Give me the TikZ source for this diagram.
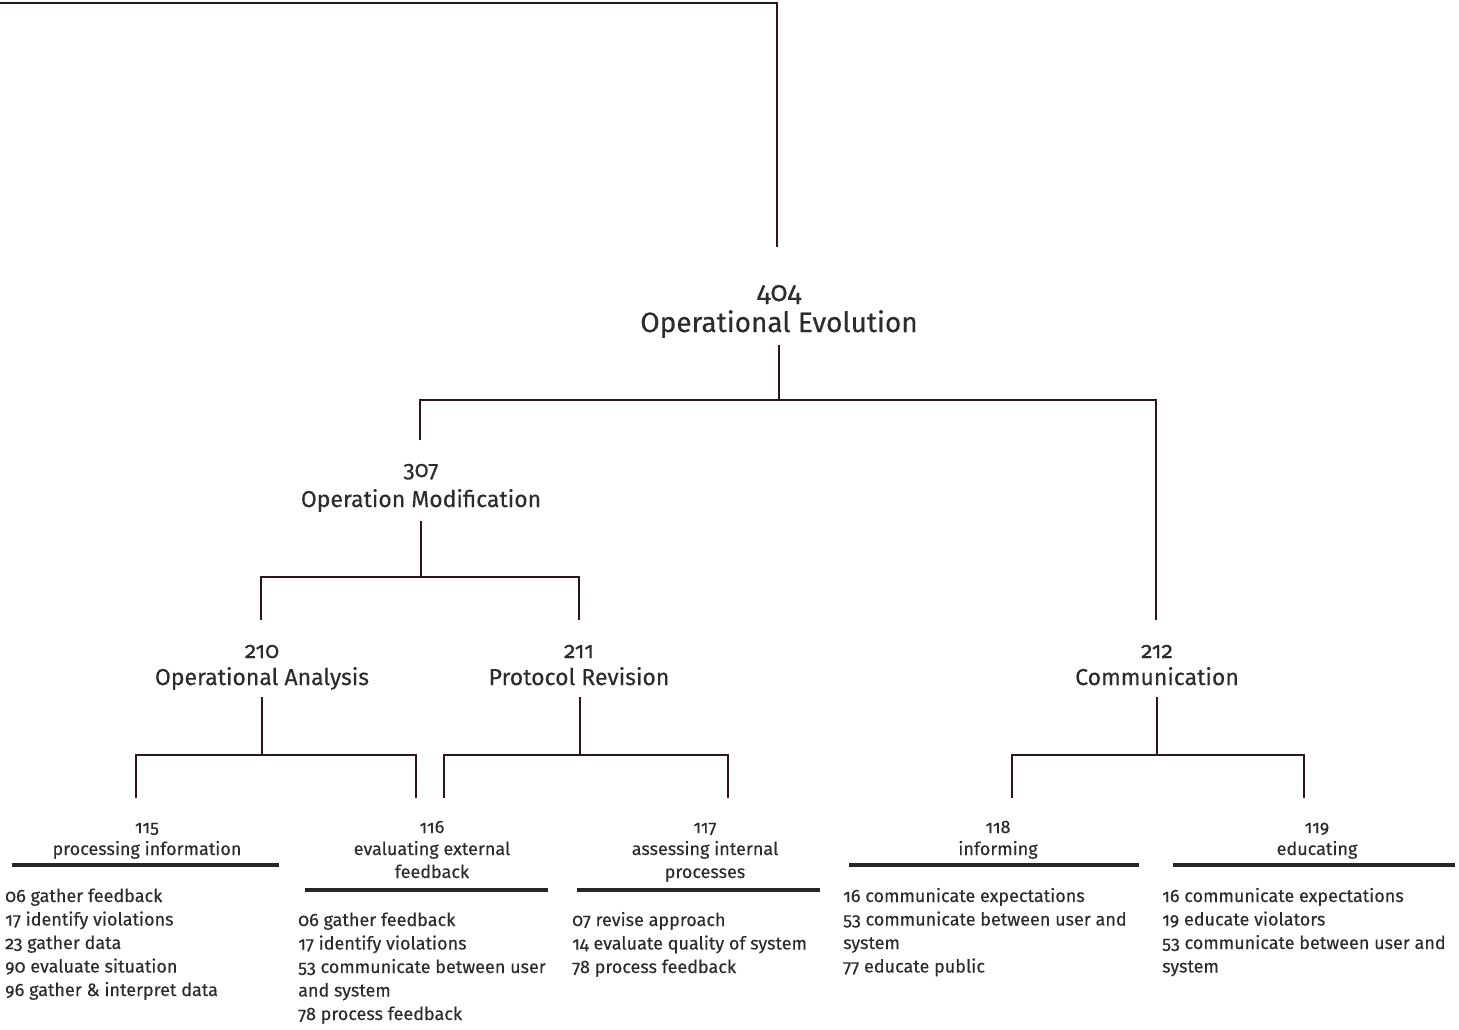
\documentclass[tikz,border=0pt]{standalone}
\usepackage{fontspec}
\setmainfont{Fira Sans}[Numbers=OldStyle,FakeBold=0.3]
\definecolor{linec}{HTML}{2B1719}
\definecolor{txt}{HTML}{2C2C2C}
\definecolor{barc}{HTML}{262626}
\begin{document}
\begin{tikzpicture}[x=1pt,y=-1pt,
  conn/.style={draw=linec,line width=1.8pt},
  bar/.style={draw=barc,line width=3.6pt},
  lbl/.style={anchor=base,inner sep=0pt,text=txt},
  big/.style={lbl,font=\fontsize{28}{33}\selectfont},
  mid/.style={lbl,font=\fontsize{23}{27}\selectfont},
  small/.style={lbl,font=\fontsize{18}{23.5}\selectfont},
  entry/.style={small,anchor=base west}]
\useasboundingbox (0,0) rectangle (1459,1029);

% ---------- labels ----------
\node[big] (n404) at (779,301) {404};
\node[big] (t404) at (779,332) {Operational Evolution};

\node[mid] (n307) at (421,477) {307};
\node[mid] (t307) at (421,507) {Operation Modification};

\node[mid] (n210) at (262,658) {210};
\node[mid] (t210) at (262,685) {Operational Analysis};
\node[mid] (n211) at (579,658) {211};
\node[mid] (t211) at (579,685) {Protocol Revision};
\node[mid] (n212) at (1157,658) {212};
\node[mid] (t212) at (1157,685) {Communication};

\node[small] (n115) at (147,833) {115};
\node[small] (t115) at (147,855) {processing information};
\node[small] (n116) at (432,833) {116};
\node[small] (t116) at (432,855) {evaluating external};
\node[small] (u116) at (432,878) {feedback};
\node[small] (n117) at (705,833) {117};
\node[small] (t117) at (705,855) {assessing internal};
\node[small] (u117) at (705,878) {processes};
\node[small] (n118) at (998,833) {118};
\node[small] (t118) at (998,855) {informing};
\node[small] (n119) at (1317,833) {119};
\node[small] (t119) at (1317,855) {educating};

% ---------- rules under the leaf headings ----------
\draw[bar] (12,865) -- (279,865);
\draw[bar] (305,890) -- (548,890);
\draw[bar] (577,890) -- (820,890);
\draw[bar] (849,865) -- (1139,865);
\draw[bar] (1173,865) -- (1455,865);

% ---------- item lists ----------
\foreach \t [count=\k] in {06 gather feedback, 17 identify violations,
    23 gather data, 90 evaluate situation, 96 gather \& interpret data}
  \node[entry] (a115-\k) at (5,{902+(\k-1)*23.5}) {\t};
\foreach \t [count=\k] in {06 gather feedback, 17 identify violations,
    53 communicate between user, and system, 78 process feedback}
  \node[entry] (a116-\k) at (298,{926+(\k-1)*23.5}) {\t};
\foreach \t [count=\k] in {07 revise approach, 14 evaluate quality of system,
    78 process feedback}
  \node[entry] (a117-\k) at (572,{926+(\k-1)*23.5}) {\t};
\foreach \t [count=\k] in {16 communicate expectations,
    53 communicate between user and, system, 77 educate public}
  \node[entry] (a118-\k) at (843,{902+(\k-1)*23.5}) {\t};
\foreach \t [count=\k] in {16 communicate expectations, 19 educate violators,
    53 communicate between user and, system}
  \node[entry] (a119-\k) at (1162,{902+(\k-1)*23.5}) {\t};

% ---------- connector end points ----------
\coordinate (top0) at (0,3);
\coordinate (e404) at (777,247);
\coordinate (s404) at (779,345);
\coordinate (e307) at (420,440);
\coordinate (e212) at (1156,620);
\coordinate (s307) at (421,521);
\coordinate (e210) at (261,620);
\coordinate (e211) at (579,620);
\coordinate (s210) at (262,697);
\coordinate (s211) at (580,697);
\coordinate (s212) at (1157,697);
\coordinate (e115) at (136,798);
\coordinate (e116) at (416,798);
\coordinate (e116b) at (444,798);
\coordinate (e117) at (728,798);
\coordinate (e118) at (1012,798);
\coordinate (e119) at (1304,798);

% ---------- connectors ----------
\draw[conn] (top0) -| (e404);
\draw[conn] (s404) -- (s404 |- 0,400);
\draw[conn] (e307) |- (0,400 -| e212) -- (e212);
\draw[conn] (s307) -- (s307 |- 0,577);
\draw[conn] (e210) |- (0,577 -| e211) -- (e211);
\draw[conn] (s210) -- (s210 |- 0,755);
\draw[conn] (e115) |- (0,755 -| e116) -- (e116);
\draw[conn] (s211) -- (s211 |- 0,755);
\draw[conn] (e116b) |- (0,755 -| e117) -- (e117);
\draw[conn] (s212) -- (s212 |- 0,755);
\draw[conn] (e118) |- (0,755 -| e119) -- (e119);
\end{tikzpicture}
\end{document}
